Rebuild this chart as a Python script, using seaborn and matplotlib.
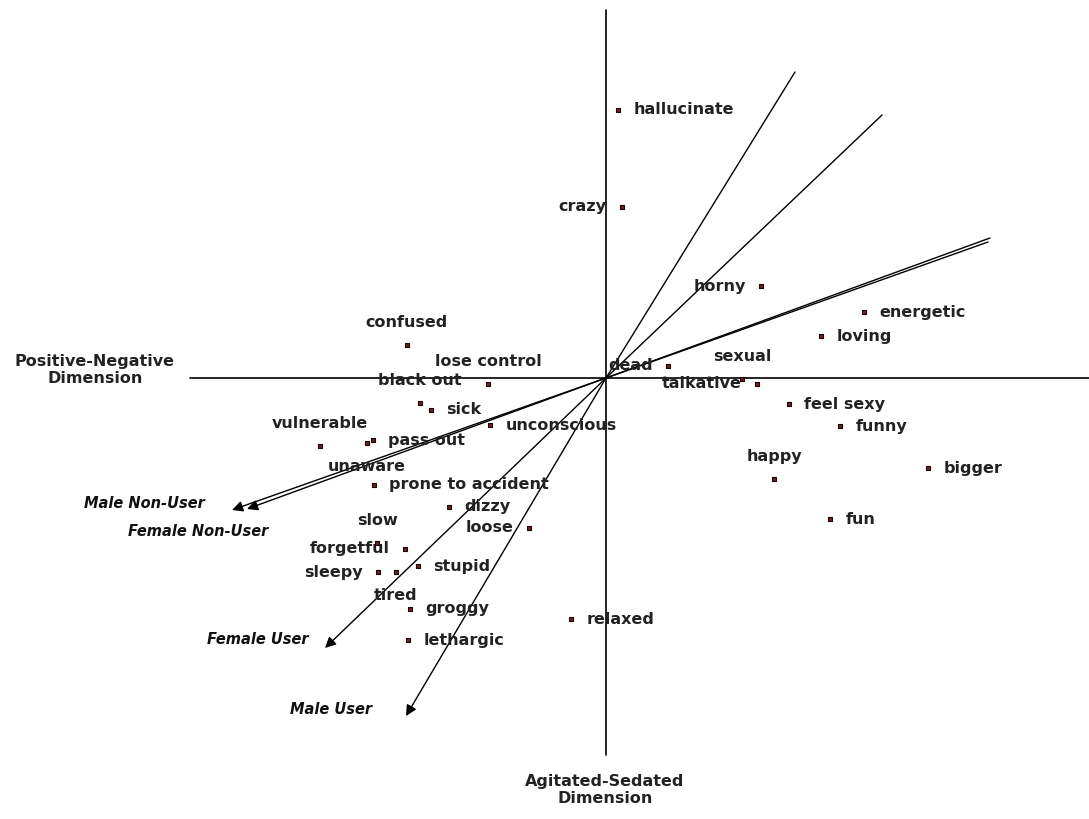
import matplotlib
matplotlib.use('Agg')
import matplotlib.pyplot as plt
import pandas as pd
import seaborn as sns

# Word coordinates (origin where the two dimension axes cross)
words = ['hallucinate', 'crazy', 'horny', 'energetic', 'loving', 'dead', 'sexual',
         'talkative', 'feel sexy', 'funny', 'happy', 'bigger', 'fun', 'relaxed',
         'confused', 'lose control', 'black out', 'sick', 'unconscious', 'vulnerable',
         'pass out', 'unaware', 'prone to accident', 'dizzy', 'loose', 'slow',
         'forgetful', 'sleepy', 'tired', 'stupid', 'groggy', 'lethargic']
x_vals = [12, 16, 155, 258, 215, 62, 136, 151, 183, 234, 168, 322, 224, -35,
          -199, -118, -186, -175, -116, -286, -233, -239, -232, -157, -77, -229,
          -201, -228, -210, -188, -196, -198]
y_vals = [268, 171, 92, 66, 42, 12, -1, -6, -26, -48, -101, -90, -141, -241,
          33, -6, -25, -32, -47, -68, -62, -65, -107, -129, -150, -165,
          -171, -194, -194, -188, -231, -262]

# Group vectors: arrow tip (negative end) and far end of the line
groups = ['Male Non-User', 'Female Non-User', 'Female User', 'Male User']
tip_x = [-374, -359, -281, -200]
tip_y = [-132, -131, -270, -338]
tail_x = [384, 382, 276, 189]
tail_y = [140, 136, 263, 306]
group_label_x = [-462, -408, -348, -275]
group_label_y = [-126, -154, -262, -332]

# where each word's label sits relative to its point
label_side = {'crazy': 'left', 'horny': 'left', 'dead': 'left', 'talkative': 'left',
              'loose': 'left', 'forgetful': 'left', 'sleepy': 'left',
              'sexual': 'above', 'happy': 'above', 'confused': 'above',
              'lose control': 'above', 'black out': 'above', 'vulnerable': 'above',
              'slow': 'above', 'unaware': 'below', 'tired': 'below'}

df = pd.DataFrame({'word': words, 'x': x_vals, 'y': y_vals})

sns.set_style('white')
plt.rcParams['font.family'] = ['DejaVu Sans']

fig = plt.figure(figsize=(10.89, 8.19), dpi=100)
ax = fig.add_axes([0, 0, 1, 1])
ax.set_xlim(-606, 483)
ax.set_ylim(-441, 378)
ax.axis('off')

# dimension axes
ax.plot([0, 0], [368, -377], color='black', lw=1.2)
ax.plot([-416, 483], [0, 0], color='black', lw=1.2)

# group vectors
for i, g in enumerate(groups):
    ax.plot([0, tail_x[i]], [0, tail_y[i]], color='black', lw=1)
    ax.annotate('', xy=(tip_x[i], tip_y[i]), xytext=(0, 0),
                arrowprops=dict(arrowstyle='-|>', color='black', lw=1,
                                mutation_scale=16, shrinkA=0, shrinkB=0))
    ax.text(group_label_x[i], group_label_y[i], g, ha='center', va='center',
            fontsize=10.5, fontweight='bold', fontstyle='italic', color='#111111')

sns.scatterplot(data=df, x='x', y='y', ax=ax, marker='s', s=11,
                color='#6a2020', edgecolor='#1a0505', linewidth=0.8, zorder=5)

for w, xv, yv in zip(words, x_vals, y_vals):
    side = label_side.get(w, 'right')
    if side == 'right':
        off, ha = (11, 0), 'left'
    elif side == 'left':
        off, ha = (-11, 0), 'right'
    elif side == 'above':
        off, ha = (0, 16), 'center'
    else:
        off, ha = (0, -17), 'center'
    ax.annotate(w, (xv, yv), xytext=off, textcoords='offset points',
                ha=ha, va='center', fontsize=11.5, fontweight='bold', color='#222222')

ax.text(-511, 8, 'Positive-Negative\nDimension', ha='center', va='center',
        fontsize=11.5, fontweight='bold', color='#222222', linespacing=1.2)
ax.text(-1, -412, 'Agitated-Sedated\nDimension', ha='center', va='center',
        fontsize=11.5, fontweight='bold', color='#222222', linespacing=1.2)

fig.savefig('out.png', dpi=100)
